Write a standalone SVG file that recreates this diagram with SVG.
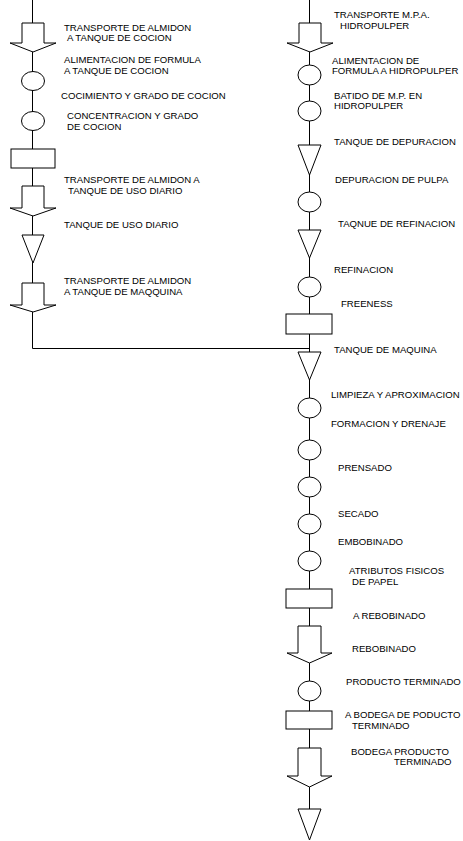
<svg xmlns="http://www.w3.org/2000/svg" width="463" height="841" viewBox="0 0 463 841">
<style>
.s{fill:#fff;stroke:#000;stroke-width:1}
.c{fill:none;stroke:#000;stroke-width:1}
text{font-family:"Liberation Sans",Arial,sans-serif;font-size:9.6px;fill:#000}
</style>
<rect width="463" height="841" fill="#fff"/>
<g id="connectors">
<path class="c" d="M32.5,0 V348.5 H309.5"/>
<path class="c" d="M309.5,0 V809"/>
</g>
<g id="l1"><path class="s" d="M22,23 H44 V43 H56 L33,52 L10,43 H22 Z"/><text x="64" y="31">TRANSPORTE DE ALMIDON</text><text x="67" y="41">A TANQUE DE COCION</text></g>
<g id="l2"><ellipse class="s" cx="33" cy="81" rx="11.5" ry="9.5"/><text x="64" y="63">ALIMENTACION DE FORMULA</text><text x="64" y="74">A TANQUE DE COCION</text></g>
<g id="l3"><ellipse class="s" cx="33" cy="121" rx="11.5" ry="9.5"/><text x="61" y="99">COCIMIENTO Y GRADO DE COCION</text><text x="67" y="119">CONCENTRACION Y GRADO</text><text x="67" y="130">DE COCION</text></g>
<g id="l4"><rect class="s" x="11" y="149" width="44" height="19"/></g>
<g id="l5"><path class="s" d="M22,186 H44 V208 H56 L33,216 L10,208 H22 Z"/><text x="64" y="183">TRANSPORTE DE ALMIDON A</text><text x="68" y="194">TANQUE DE USO DIARIO</text></g>
<g id="l6"><path class="s" d="M22,235 H44 L33,263 Z"/><text x="64" y="228">TANQUE DE USO DIARIO</text></g>
<g id="l7"><path class="s" d="M22,283 H44 V305 H56 L33,312 L10,305 H22 Z"/><text x="64" y="284">TRANSPORTE DE ALMIDON</text><text x="64" y="295">A TANQUE DE MAQQUINA</text></g>

<g id="r1"><path class="s" d="M299,23 H321 V43 H333 L310,52 L287,43 H299 Z"/><text x="334" y="18">TRANSPORTE M.P.A.</text><text x="340" y="29">HIDROPULPER</text></g>
<g id="r2"><ellipse class="s" cx="309.5" cy="75" rx="11.5" ry="10"/><text x="332" y="64">ALIMENTACION DE</text><text x="332" y="74">FORMULA A HIDROPULPER</text></g>
<g id="r3"><ellipse class="s" cx="309.5" cy="111" rx="11.5" ry="10"/><text x="334" y="99">BATIDO DE M.P. EN</text><text x="334" y="109">HIDROPULPER</text></g>
<g id="r4"><path class="s" d="M298,145 H321 L309.5,175 Z"/><text x="334" y="145">TANQUE DE DEPURACION</text></g>
<g id="r5"><ellipse class="s" cx="309.5" cy="202" rx="11.5" ry="10"/><text x="335" y="183">DEPURACION DE PULPA</text></g>
<g id="r6"><path class="s" d="M298,230 H321 L309.5,258 Z"/><text x="338" y="227">TAQNUE DE REFINACION</text></g>
<g id="r7"><ellipse class="s" cx="309.5" cy="287" rx="11.5" ry="10"/><text x="334" y="273">REFINACION</text></g>
<g id="r8"><rect class="s" x="286" y="314" width="46" height="20"/><text x="341" y="307">FREENESS</text></g>
<g id="r9"><path class="s" d="M298,352 H321 L309.5,380 Z"/><text x="334" y="353">TANQUE DE MAQUINA</text></g>
<g id="r10"><ellipse class="s" cx="309.5" cy="408" rx="11.5" ry="10"/><text x="331" y="398">LIMPIEZA Y APROXIMACION</text></g>
<g id="r11"><ellipse class="s" cx="309.5" cy="450" rx="11.5" ry="10"/><text x="331" y="427">FORMACION Y DRENAJE</text></g>
<g id="r12"><ellipse class="s" cx="309.5" cy="487" rx="11.5" ry="10"/><text x="338" y="471">PRENSADO</text></g>
<g id="r13"><ellipse class="s" cx="309.5" cy="524" rx="11.5" ry="10"/><text x="338" y="517">SECADO</text></g>
<g id="r14"><ellipse class="s" cx="309.5" cy="561" rx="11.5" ry="10"/><text x="338" y="545">EMBOBINADO</text></g>
<g id="r15"><rect class="s" x="286" y="589" width="46" height="19"/><text x="349" y="574">ATRIBUTOS FISICOS</text><text x="352" y="585">DE PAPEL</text></g>
<g id="r16"><path class="s" d="M298,626 H321 V653 H332 L309.5,663 L287,653 H298 Z"/><text x="353" y="619">A REBOBINADO</text><text x="352" y="652">REBOBINADO</text></g>
<g id="r17"><ellipse class="s" cx="309.5" cy="691" rx="11.5" ry="10"/><text x="346" y="685">PRODUCTO TERMINADO</text></g>
<g id="r18"><rect class="s" x="286" y="711" width="46" height="18"/><text x="345" y="718">A BODEGA DE PODUCTO</text><text x="352" y="729">TERMINADO</text></g>
<g id="r19"><path class="s" d="M298,748 H321 V776 H332 L309.5,787 L287,776 H298 Z"/><text x="351" y="755">BODEGA PRODUCTO</text><text x="394" y="765">TERMINADO</text></g>
<g id="r20"><path class="s" d="M298,809 H321 L309.5,840 Z"/></g>
</svg>
